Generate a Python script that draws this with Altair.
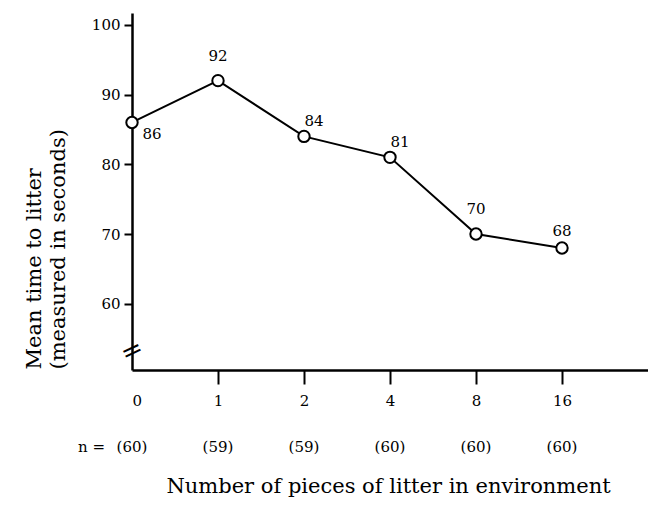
import altair as alt
import pandas as pd

# ---- data ----
litter = ["0", "1", "2", "4", "8", "16"]
mean_time = [86, 92, 84, 81, 70, 68]
n_sizes = [60, 59, 59, 60, 60, 60]
label_side = ["below-right", "above", "above-right", "above-right", "above", "above-low"]
y_ticks = [60, 70, 80, 90, 100]

df = pd.DataFrame({
    "idx": list(range(len(litter))),
    "litter": litter,
    "time": mean_time,
    "n": [f"({v})" for v in n_sizes],
    "side": label_side,
})

FONT = "DejaVu Serif"
label_expr = "[" + ",".join(f"'{c}'" for c in litter) + "][datum.value]"

x_enc = alt.X(
    "idx:Q",
    scale=alt.Scale(domain=[0, 6.0], nice=False, zero=False),
    axis=alt.Axis(
        values=list(range(len(litter))),
        labelExpr=label_expr,
        title="Number of pieces of litter in environment",
        titleFont=FONT, titleFontSize=21, titleFontWeight="normal",
        titleX=256, titleY=116, titleAnchor="start", titleAlign="center",
        titleBaseline="middle",
        labelFont=FONT, labelFontSize=15, labelPadding=9,
        tickSize=14, tickWidth=2, tickColor="black",
        tickOpacity={"condition": {"test": "datum.value === 0", "value": 0}, "value": 1},
        domainWidth=2.5, domainColor="black",
        grid=False, labelColor="black",
    ),
)
y_enc = alt.Y(
    "time:Q",
    scale=alt.Scale(domain=[50.5, 101.7], nice=False, zero=False),
    axis=alt.Axis(
        values=y_ticks,
        title=["Mean time to litter", "(measured in seconds)"],
        titleFont=FONT, titleFontSize=21, titleFontWeight="normal",
        titleLineHeight=24, titleAngle=270, titleAlign="left",
        titleBaseline="middle", titleX=-98, titleY=356, titleAnchor="start",
        labelFont=FONT, labelFontSize=15, labelPadding=4,
        tickSize=8, tickWidth=2, tickColor="black",
        domainWidth=2.5, domainColor="black",
        grid=False, labelColor="black",
    ),
)

base = alt.Chart(df)

line = base.mark_line(color="black", strokeWidth=2).encode(x=x_enc, y=y_enc)
pts = base.mark_point(
    shape="circle", filled=True, fill="white", stroke="black",
    strokeWidth=2, size=130, opacity=1
).encode(x="idx:Q", y="time:Q")

offsets = {
    "below-right": (20, 12),
    "above": (0, -25),
    "above-right": (10, -15),
    "above-low": (0, -17),
}
label_layers = []
for side, (dx, dy) in offsets.items():
    label_layers.append(
        base.transform_filter(alt.datum.side == side)
        .mark_text(font=FONT, fontSize=15, color="black", dx=dx, dy=dy)
        .encode(x="idx:Q", y="time:Q", text="time:Q")
    )

n_row = base.mark_text(font=FONT, fontSize=15, color="black", baseline="middle").encode(
    x="idx:Q", y=alt.value(434), text="n:N"
)
n_eq = base.transform_filter(alt.datum.idx == 0).mark_text(
    font=FONT, fontSize=15, color="black", align="right", baseline="middle", dx=-27
).encode(x="idx:Q", y=alt.value(434), text=alt.value("n ="))

brk = base.transform_filter(alt.datum.idx == 0).mark_text(
    font=FONT, fontSize=26, color="black", angle=335, baseline="middle"
).encode(x="idx:Q", y=alt.value(338), text=alt.value("="))

chart = alt.layer(line, pts, *label_layers, n_row, n_eq, brk).properties(
    width=516, height=357,
    autosize=alt.AutoSizeParams(type="none"),
    padding={"left": 124, "top": 5, "right": 0, "bottom": 134},
    background="white",
).configure_view(stroke=None)

chart.save("out.html", embed_options={"renderer": "svg", "actions": False})
